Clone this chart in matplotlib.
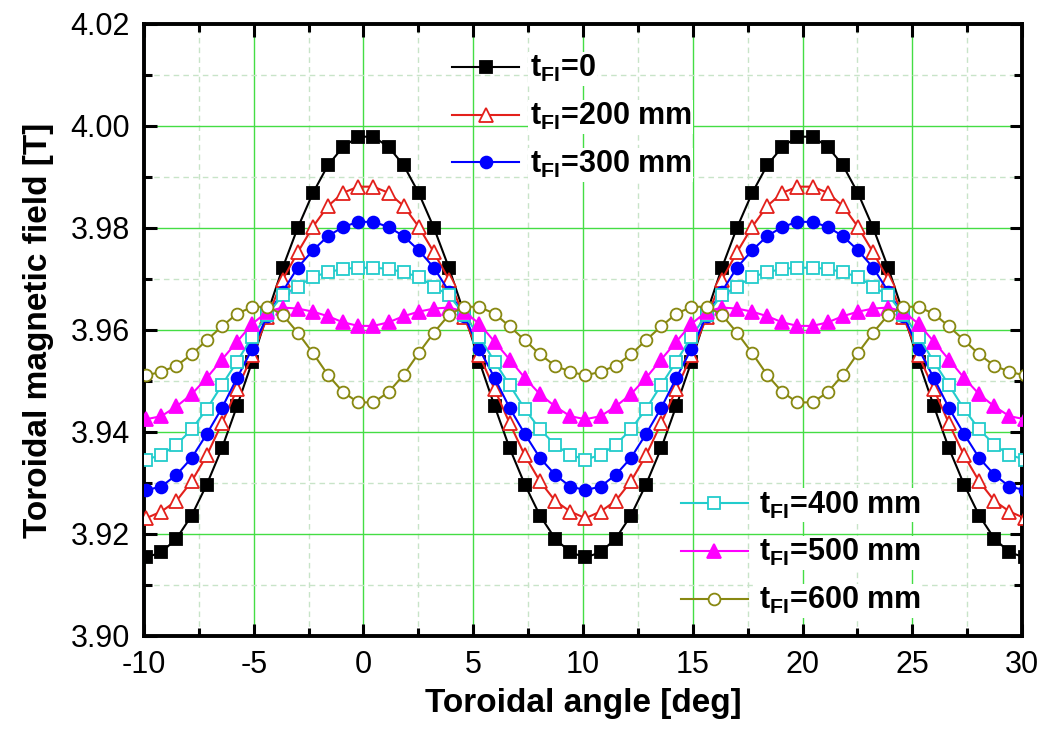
import matplotlib
matplotlib.use('Agg')
import matplotlib.pyplot as plt
from matplotlib.ticker import MultipleLocator

#-----------------------------------------------------------------------------#
# Data (toroidal angle in deg, field in T)
#-----------------------------------------------------------------------------#
angle = [-9.90, -9.21, -8.52, -7.83, -7.14, -6.45, -5.76, -5.07, -4.38, -3.69,
         -3.00, -2.31, -1.62, -0.93, -0.24, 0.45, 1.14, 1.83, 2.52, 3.21,
         3.90, 4.59, 5.28, 5.97, 6.66, 7.35, 8.04, 8.73, 9.42, 10.11,
         10.80, 11.49, 12.18, 12.87, 13.56, 14.25, 14.94, 15.63, 16.32, 17.01,
         17.70, 18.39, 19.08, 19.77, 20.46, 21.15, 21.84, 22.53, 23.22, 23.91,
         24.60, 25.29, 25.98, 26.67, 27.36, 28.05, 28.74, 29.43, 30.12]

b_0 = [3.9154, 3.9164, 3.9191, 3.9236, 3.9297, 3.9368, 3.9451, 3.9538, 3.9632, 3.9721,
       3.9800, 3.9868, 3.9923, 3.9959, 3.9979, 3.9979, 3.9959, 3.9923, 3.9868, 3.9800,
       3.9721, 3.9632, 3.9538, 3.9451, 3.9368, 3.9297, 3.9236, 3.9191, 3.9164, 3.9154,
       3.9164, 3.9191, 3.9236, 3.9297, 3.9368, 3.9451, 3.9538, 3.9632, 3.9721, 3.9800,
       3.9868, 3.9923, 3.9959, 3.9979, 3.9979, 3.9959, 3.9923, 3.9868, 3.9800, 3.9721,
       3.9632, 3.9538, 3.9451, 3.9368, 3.9297, 3.9236, 3.9191, 3.9164, 3.9154]

b_200 = [3.9231, 3.9244, 3.9265, 3.9303, 3.9354, 3.9417, 3.9484, 3.9550, 3.9625, 3.9698,
         3.9752, 3.9802, 3.9843, 3.9869, 3.9881, 3.9881, 3.9869, 3.9843, 3.9802, 3.9752,
         3.9698, 3.9625, 3.9550, 3.9484, 3.9417, 3.9354, 3.9303, 3.9265, 3.9244, 3.9231,
         3.9244, 3.9265, 3.9303, 3.9354, 3.9417, 3.9484, 3.9550, 3.9625, 3.9698, 3.9752,
         3.9802, 3.9843, 3.9869, 3.9881, 3.9881, 3.9869, 3.9843, 3.9802, 3.9752, 3.9698,
         3.9625, 3.9550, 3.9484, 3.9417, 3.9354, 3.9303, 3.9265, 3.9244, 3.9231]

b_300 = [3.9286, 3.9293, 3.9316, 3.9349, 3.9396, 3.9447, 3.9506, 3.9563, 3.9628, 3.9675,
         3.9722, 3.9756, 3.9784, 3.9802, 3.9812, 3.9812, 3.9802, 3.9784, 3.9756, 3.9722,
         3.9675, 3.9628, 3.9563, 3.9506, 3.9447, 3.9396, 3.9349, 3.9316, 3.9293, 3.9286,
         3.9293, 3.9316, 3.9349, 3.9396, 3.9447, 3.9506, 3.9563, 3.9628, 3.9675, 3.9722,
         3.9756, 3.9784, 3.9802, 3.9812, 3.9812, 3.9802, 3.9784, 3.9756, 3.9722, 3.9675,
         3.9628, 3.9563, 3.9506, 3.9447, 3.9396, 3.9349, 3.9316, 3.9293, 3.9286]

b_400 = [3.9346, 3.9355, 3.9375, 3.9405, 3.9445, 3.9492, 3.9538, 3.9587, 3.9630, 3.9668,
         3.9685, 3.9704, 3.9713, 3.9720, 3.9722, 3.9722, 3.9720, 3.9713, 3.9704, 3.9685,
         3.9668, 3.9630, 3.9587, 3.9538, 3.9492, 3.9445, 3.9405, 3.9375, 3.9355, 3.9346,
         3.9355, 3.9375, 3.9405, 3.9445, 3.9492, 3.9538, 3.9587, 3.9630, 3.9668, 3.9685,
         3.9704, 3.9713, 3.9720, 3.9722, 3.9722, 3.9720, 3.9713, 3.9704, 3.9685, 3.9668,
         3.9630, 3.9587, 3.9538, 3.9492, 3.9445, 3.9405, 3.9375, 3.9355, 3.9346]

b_500 = [3.9425, 3.9431, 3.9450, 3.9474, 3.9506, 3.9542, 3.9577, 3.9612, 3.9636, 3.9644,
         3.9642, 3.9636, 3.9627, 3.9615, 3.9608, 3.9608, 3.9615, 3.9627, 3.9636, 3.9642,
         3.9644, 3.9636, 3.9612, 3.9577, 3.9542, 3.9506, 3.9474, 3.9450, 3.9431, 3.9425,
         3.9431, 3.9450, 3.9474, 3.9506, 3.9542, 3.9577, 3.9612, 3.9636, 3.9644, 3.9642,
         3.9636, 3.9627, 3.9615, 3.9608, 3.9608, 3.9615, 3.9627, 3.9636, 3.9642, 3.9644,
         3.9636, 3.9612, 3.9577, 3.9542, 3.9506, 3.9474, 3.9450, 3.9431, 3.9425]

b_600 = [3.9511, 3.9518, 3.9530, 3.9552, 3.9580, 3.9607, 3.9632, 3.9645, 3.9646, 3.9630,
         3.9595, 3.9555, 3.9512, 3.9478, 3.9458, 3.9458, 3.9478, 3.9512, 3.9555, 3.9595,
         3.9630, 3.9646, 3.9645, 3.9632, 3.9607, 3.9580, 3.9552, 3.9530, 3.9518, 3.9511,
         3.9518, 3.9530, 3.9552, 3.9580, 3.9607, 3.9632, 3.9645, 3.9646, 3.9630, 3.9595,
         3.9555, 3.9512, 3.9478, 3.9458, 3.9458, 3.9478, 3.9512, 3.9555, 3.9595, 3.9630,
         3.9646, 3.9645, 3.9632, 3.9607, 3.9580, 3.9552, 3.9530, 3.9518, 3.9511]

labels = [r'$\mathbf{t_{FI}}$=0', r'$\mathbf{t_{FI}}$=200 mm', r'$\mathbf{t_{FI}}$=300 mm',
          r'$\mathbf{t_{FI}}$=400 mm', r'$\mathbf{t_{FI}}$=500 mm', r'$\mathbf{t_{FI}}$=600 mm']

#-----------------------------------------------------------------------------#
# Plot
#-----------------------------------------------------------------------------#
plt.rcParams['font.family'] = 'Liberation Sans'
plt.rcParams['mathtext.fontset'] = 'custom'
plt.rcParams['mathtext.rm'] = 'Liberation Sans'
plt.rcParams['mathtext.bf'] = 'Liberation Sans:bold'
plt.rcParams['axes.unicode_minus'] = False

fig = plt.figure(figsize=(10.48, 7.31), dpi=100)
ax = fig.add_axes([0.1374, 0.130, 0.8378, 0.8372])

styles = [
    (b_0, 'black', 's', 'black'),
    (b_200, '#e3201b', '^', 'white'),
    (b_300, '#0000ff', 'o', '#0000ff'),
    (b_400, '#22cccc', 's', 'white'),
    (b_500, '#ff00ff', '^', '#ff00ff'),
    (b_600, '#888811', 'o', 'white'),
]
lines = []
for (y, c, m, fc), lab in zip(styles, labels):
    ms = 8.5 if m != '^' else 9.5
    l, = ax.plot(angle, y, color=c, lw=1.5, marker=m, ms=ms, mfc=fc, mec=c,
                 mew=1.3, label=lab, zorder=3)
    lines.append(l)

ax.set_xlim(-10, 30)
ax.set_ylim(3.90, 4.02)
ax.xaxis.set_major_locator(MultipleLocator(5))
ax.xaxis.set_minor_locator(MultipleLocator(2.5))
ax.yaxis.set_major_locator(MultipleLocator(0.02))
ax.yaxis.set_minor_locator(MultipleLocator(0.01))
ax.yaxis.set_major_formatter(plt.FormatStrFormatter('%.2f'))

ax.grid(which='major', color='#44dd44', lw=1.0, zorder=0)
ax.grid(which='minor', color='#c8e4c8', lw=1.0, ls=(0, (4, 3)), zorder=0)
ax.set_axisbelow(True)

ax.tick_params(which='both', direction='in', top=True, right=True, width=2.2,
               labelsize=22, color='black')
ax.tick_params(which='major', length=9)
ax.tick_params(which='minor', length=6)
ax.tick_params(axis='x', pad=10)
ax.tick_params(axis='y', pad=10)
for s in ax.spines.values():
    s.set_linewidth(2.8)

ax.set_xlabel('Toroidal angle [deg]', fontsize=24, fontweight='bold', labelpad=6)
ax.set_ylabel('Toroidal magnetic field [T]', fontsize=24, fontweight='bold', labelpad=12)

leg1 = ax.legend(handles=lines[:3], loc='upper left', bbox_to_anchor=(0.337, 0.972),
                 frameon=False, fontsize=22, handlelength=2.2, labelspacing=0.55,
                 handletextpad=0.35, borderaxespad=0)
for t in leg1.get_texts():
    t.set_fontweight('bold')
    t.set_bbox(dict(facecolor='white', edgecolor='none', pad=1))
ax.add_artist(leg1)

leg2 = ax.legend(handles=lines[3:], loc='lower left', bbox_to_anchor=(0.5975, 0.012),
                 frameon=False, fontsize=22, handlelength=2.2, labelspacing=0.55,
                 handletextpad=0.35, borderaxespad=0)
for t in leg2.get_texts():
    t.set_fontweight('bold')
    t.set_bbox(dict(facecolor='white', edgecolor='none', pad=1))

fig.savefig('out.png', dpi=100)
